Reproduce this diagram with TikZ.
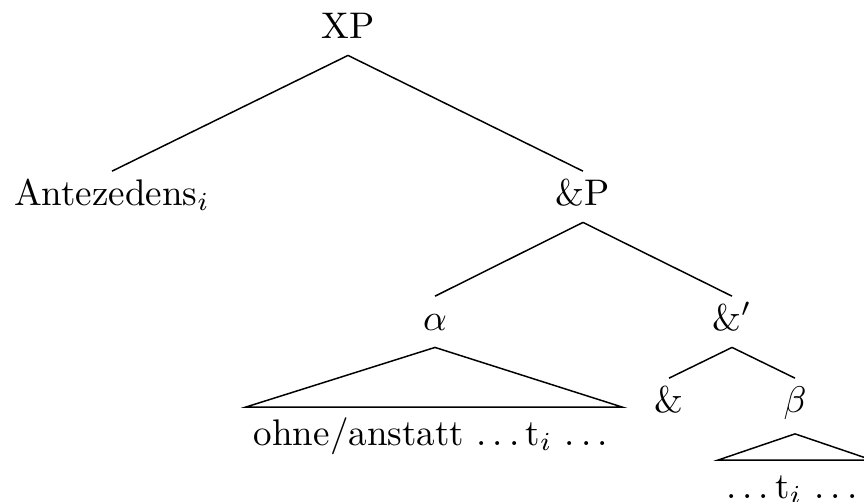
\documentclass[tikz,border=0pt]{standalone}
% spaced ellipsis: three dots, each followed by an interword-stretch kern
\newcommand{\tdots}{.\kern\fontdimen3\font.\kern\fontdimen3\font.\kern\fontdimen3\font}
\begin{document}
\begin{tikzpicture}[x=0.27pt,y=-0.27pt,
  lbl/.style={inner xsep=0pt,inner ysep=2pt,text height=6.94pt,text depth=2.5pt,anchor=base},
  rooftext/.style={inner xsep=2pt,inner ysep=3.1pt,text height=6.94pt,text depth=0pt,anchor=base},
  branch/.style={line width=0.4pt}]
  \useasboundingbox (0,0) rectangle (864,501);
  \clip (0,0) rectangle (864,501);

  % labels of the tree
  \node[lbl] (xp)    at (348,38)  {XP};
  \node[lbl] (ant)   at (112,205) {Antezedens$_i$};
  \node[lbl] (andp)  at (583,205) {\&P};
  \node[lbl] (alpha) at (435,330) {$\alpha$};
  \node[lbl] (andb)  at (732,330) {\&$'$};
  \node[lbl] (amp)   at (669,412) {\&};
  \node[lbl,text depth=3.7pt] (beta) at (795,412) {$\beta$};

  % material under the roofs
  \node[rooftext] (ra) at (434,445) {ohne/anstatt \tdots t$_i$ \tdots};
  \node[rooftext] (rb) at (795,498) {\tdots t$_i$ \tdots};

  % branches
  \draw[branch] (xp.south) -- (ant.north);
  \draw[branch] (xp.south) -- (andp.north);
  \draw[branch] (andp.south) -- (alpha.north);
  \draw[branch] (andp.south) -- (andb.north);
  \draw[branch] (andb.south) -- (amp.north);
  \draw[branch] (andb.south) -- (beta.north);

  % roofs
  \draw[branch] (alpha.south) -- (ra.north west) -- (ra.north east) -- cycle;
  \draw[branch] (beta.south) -- (rb.north west) -- (rb.north east) -- cycle;
\end{tikzpicture}
\end{document}
